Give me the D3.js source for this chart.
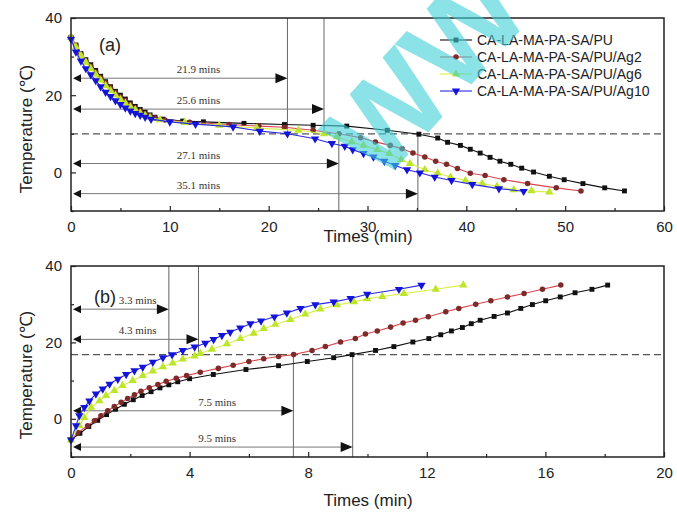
<!DOCTYPE html>
<html>
<head>
<meta charset="utf-8"/>
<title>Temperature curves</title>
<script src="https://cdn.jsdelivr.net/npm/d3@7/dist/d3.min.js"></script>
<style>
  html,body { margin:0; padding:0; background:#fff; overflow:hidden; }
  svg { display:block; }
  .tick text { font-family:"Liberation Sans", Arial, sans-serif; font-size:15px; fill:#222; }
  .tick line { stroke:#222; stroke-width:1.2; }
</style>
</head>
<body>
<svg width="677" height="514"></svg>
<script>
// legend / series names
const names = ["CA-LA-MA-PA-SA/PU", "CA-LA-MA-PA-SA/PU/Ag2", "CA-LA-MA-PA-SA/PU/Ag6", "CA-LA-MA-PA-SA/PU/Ag10"];

// (a) cooling, [time min, temp °C]
const coolPU = [[0,35.0],[0.5,33.0],[1,30.8],[1.5,29.2],[2,27.9],[2.5,26.4],[3,24.9],[3.5,23.5],[4,22.2],[4.5,21.0],[5,20.0],[5.5,19.0],[6,18.0],[6.5,17.1],[7,16.3],[7.5,15.6],[8,14.9],[8.5,14.3],[9.3,13.8],[11.3,13.3],[13.4,13.1],[17.5,12.7],[21.6,12.4],[24.5,12.2],[27.9,12.0],[32.0,10.9],[35.2,9.9],[37.1,8.9],[38.1,7.8],[39.4,7.0],[40.4,6.0],[41.4,5.0],[42.4,3.9],[43.4,2.9],[44.5,2.1],[45.6,1.1],[46.8,0.1],[48.4,-1.0],[49.9,-1.9],[51.8,-2.9],[54.0,-4.0],[56.0,-4.8]];
const coolAg2 = [[0,35.0],[0.5,32.8],[1,30.6],[1.5,28.9],[2,27.5],[2.5,26.0],[3,24.6],[3.5,23.2],[4,21.9],[4.5,20.7],[5,19.6],[5.5,18.6],[6,17.6],[6.5,16.7],[7,15.9],[7.5,15.2],[8,14.6],[8.5,14.1],[9.5,13.6],[12,13.0],[16,12.4],[19,12.0],[21.6,11.7],[24.5,10.9],[27.1,10.0],[29.3,9.0],[30.8,7.9],[32.3,7.0],[33.5,6.1],[34.6,5.0],[35.8,4.0],[36.9,2.9],[38.0,2.1],[39.1,1.0],[40.4,-0.2],[41.9,-0.8],[43.8,-1.9],[46.2,-2.9],[49.1,-4.0],[51.6,-4.8]];
const coolAg6 = [[0,35.0],[0.5,32.5],[1,30.3],[1.5,28.5],[2,26.9],[2.5,25.4],[3,23.9],[3.5,22.5],[4,21.2],[4.5,20.0],[5,18.9],[5.5,17.9],[6,17.0],[6.5,16.2],[7,15.4],[7.5,14.7],[8,14.2],[9,13.6],[11.5,12.9],[15,12.2],[18.8,11.5],[23.0,10.9],[25.6,10.0],[26.9,9.2],[28.4,7.9],[29.6,7.0],[31.0,5.9],[32.2,4.9],[33.4,3.3],[34.3,2.3],[35.8,0.7],[37.1,-0.2],[38.4,-1.2],[39.9,-2.1],[41.6,-2.9],[43.1,-3.6],[44.8,-4.5],[46.6,-4.8],[48.4,-5.1]];
const coolAg10 = [[0,34.5],[0.5,31.2],[1,28.9],[1.5,26.9],[2,25.3],[2.5,23.8],[3,22.2],[3.5,20.8],[4,19.7],[4.5,18.6],[5,17.6],[5.5,16.7],[6,15.9],[6.5,15.3],[7,14.8],[7.5,14.3],[8.1,13.8],[10,13.1],[12.6,12.5],[16.4,11.8],[19.1,10.7],[21.9,10.0],[24.7,8.7],[26.4,7.5],[27.7,6.8],[28.5,5.9],[29.6,4.9],[30.6,4.0],[31.7,2.9],[32.8,1.8],[34.0,0.7],[35.3,-0.1],[36.8,-1.2],[38.5,-2.1],[40.6,-3.1],[43.3,-4.2],[45.8,-4.9]];

// (b) heating
const heatPU = [[0,-5.5],[0.3,-3.8],[0.6,-2.0],[0.9,-0.4],[1.2,1.1],[1.5,2.5],[1.8,3.8],[2.1,5.0],[2.4,6.1],[2.7,7.1],[3.0,8.1],[3.3,8.9],[3.6,9.7],[4.0,10.5],[4.8,11.6],[5.9,12.9],[7.0,13.9],[7.97,15.0],[8.86,16.0],[9.48,16.8],[10.27,17.9],[10.89,18.9],[11.53,20.1],[12.07,21.0],[12.47,22.0],[12.83,23.0],[13.2,23.9],[13.5,24.9],[13.8,25.8],[14.27,26.8],[14.72,27.7],[15.17,28.9],[15.56,29.9],[16.01,30.9],[16.5,31.9],[17.0,33.0],[17.57,33.9],[18.1,35.0]];
const heatAg2 = [[0,-5.5],[0.23,-3.6],[0.56,-1.8],[0.79,-0.5],[1.01,0.8],[1.24,2.1],[1.46,3.2],[1.69,4.3],[1.91,5.3],[2.14,6.3],[2.36,7.2],[2.64,8.1],[2.93,9.0],[3.21,9.8],[3.55,10.6],[3.9,11.3],[4.36,12.2],[4.97,13.2],[5.47,14.0],[6.0,15.0],[6.5,15.7],[7.0,16.3],[7.51,16.8],[8.13,17.9],[8.58,18.9],[9.09,20.1],[9.59,21.0],[9.93,22.2],[10.33,23.0],[10.78,24.0],[11.2,25.1],[11.62,25.8],[12.05,26.7],[12.64,28.0],[13.08,28.9],[13.65,30.0],[14.16,30.9],[14.72,31.9],[15.28,32.8],[15.9,33.9],[16.52,35.0]];
const heatAg6 = [[0,-5.5],[0.28,-1.8],[0.45,0.3],[0.68,3.0],[0.96,4.7],[1.18,6.1],[1.46,7.4],[1.74,8.7],[2.08,10.0],[2.42,11.3],[2.76,12.5],[3.1,13.6],[3.43,14.6],[3.77,15.6],[4.17,16.4],[4.36,17.1],[4.75,18.2],[5.26,19.6],[5.71,21.0],[6.16,22.4],[6.5,23.6],[6.89,24.7],[7.4,26.0],[7.9,27.4],[8.41,28.7],[8.97,29.8],[9.54,30.6],[9.99,31.4],[10.5,32.0],[11.23,32.8],[12.3,33.9],[13.23,35.0]];
const heatAg10 = [[0,-5.5],[0.17,-1.8],[0.28,0.8],[0.45,3.0],[0.62,4.7],[0.84,6.5],[1.07,7.8],[1.3,9.1],[1.58,10.4],[1.86,11.6],[2.14,12.6],[2.42,13.5],[2.76,14.8],[3.1,16.0],[3.41,16.8],[3.77,17.9],[4.17,18.8],[4.53,19.8],[4.81,20.8],[5.09,21.8],[5.37,22.7],[5.71,23.8],[6.05,24.9],[6.41,25.6],[6.86,26.7],[7.28,27.7],[7.74,28.9],[8.24,29.9],[8.86,30.6],[9.43,31.5],[9.99,32.6],[11.06,33.9],[11.82,35.0]];

// annotation values
const levelA = 10, levelB = 16.8;
const arrowMinsA = [21.9, 25.6, 27.1, 35.1];
const arrowTempA = [24.4, 16.4, 2.3, -5.5];
const arrowMinsB = [3.3, 4.3, 7.5, 9.5];
const arrowTempB = [28.7, 20.8, 2.1, -7.4];

const xTicksA = [0,10,20,30,40,50,60], xMinorA = [5,15,25,35,45,55];
const xTicksB = [0,4,8,12,16,20],      xMinorB = [2,6,10,14,18];
const yTicks = [0,20,40],               yMinor = [-10,10,30];

// look of the four series
const styles = [
  {line:"#111",    fill:"#111",    sym:d3.symbolSquare,   size:24, rot:0},
  {line:"#d9484f", fill:"#7c2a2a", sym:d3.symbolCircle,   size:24, rot:0},
  {line:"#d8f040", fill:"#bde52a", sym:d3.symbolTriangle, size:30, rot:0},
  {line:"#2a2ae6", fill:"#1414d8", sym:d3.symbolTriangle, size:30, rot:180}
];

const svg = d3.select("svg");
const L = 71, R = 664;
const FONT = '"Liberation Sans", Arial, sans-serif';
const SERIF = '"Liberation Serif", "Times New Roman", serif';

function drawPanel(p) {
  const x = d3.scaleLinear().domain(p.xDom).range([L, R]);
  const y = d3.scaleLinear().domain([-10, 40]).range([p.bottom, p.top]);
  const g = svg.append("g");

  // dashed reference level
  g.append("line")
    .attr("x1", L).attr("x2", R).attr("y1", y(p.level)).attr("y2", y(p.level))
    .attr("stroke", "#555").attr("stroke-width", 1.2).attr("stroke-dasharray", "7,4");

  // vertical guides: first two go up, last two go down
  p.arrowMins.forEach((m, i) => {
    const up = i < 2;
    g.append("line")
      .attr("x1", x(m)).attr("x2", x(m))
      .attr("y1", up ? y(40) : y(p.level)).attr("y2", up ? y(p.level) : y(-10))
      .attr("stroke", "#666").attr("stroke-width", 1);
  });

  // double arrows with labels
  p.arrowMins.forEach((m, i) => {
    const yy = y(p.arrowTemp[i]), x0 = x(0) + 2, x1 = x(m);
    g.append("line").attr("x1", x0 + 6).attr("x2", x1 - 10)
      .attr("y1", yy).attr("y2", yy).attr("stroke", "#777").attr("stroke-width", 1);
    g.append("path").attr("d", `M${x0},${yy}L${x0+8},${yy-4}L${x0+8},${yy+4}Z`).attr("fill", "#111");
    g.append("path").attr("d", `M${x1},${yy}L${x1-12},${yy-5}L${x1-12},${yy+5}Z`).attr("fill", "#111");
    g.append("text")
      .attr("x", x(i < 2 ? p.labelX[0] : p.labelX[1])).attr("y", yy - 5)
      .attr("text-anchor", "middle")
      .style("font-family", SERIF).style("font-size", "11px").attr("fill", "#333")
      .text(m + " mins");
  });

  // series
  const line = d3.line().x(d => x(d[0])).y(d => y(d[1]));
  p.series.forEach((s, i) => {
    const st = styles[i];
    g.append("path").datum(s).attr("d", line)
      .attr("fill", "none").attr("stroke", st.line).attr("stroke-width", 1.1);
    g.selectAll(null).data(s).join("path")
      .attr("d", d3.symbol(st.sym, st.size))
      .attr("transform", d => `translate(${x(d[0])},${y(d[1])}) rotate(${st.rot})`)
      .attr("fill", st.fill);
  });

  // axes, ticks pointing inward
  g.append("g").attr("transform", `translate(0,${p.bottom})`)
    .call(d3.axisBottom(x).tickValues(p.xTicks).tickSize(-5).tickPadding(10).tickFormat(d3.format("d")));
  g.append("g").attr("transform", `translate(0,${p.bottom})`)
    .call(d3.axisBottom(x).tickValues(p.xMinor).tickSize(-3).tickFormat(""));
  g.append("g").attr("transform", `translate(${L},0)`)
    .call(d3.axisLeft(y).tickValues(yTicks).tickSize(-5).tickPadding(9).tickFormat(d3.format("d")));
  g.append("g").attr("transform", `translate(${L},0)`)
    .call(d3.axisLeft(y).tickValues(yMinor).tickSize(-3).tickFormat(""));
  g.selectAll(".domain").remove();

  // frame
  g.append("rect").attr("x", L).attr("y", p.top).attr("width", R - L).attr("height", p.bottom - p.top)
    .attr("fill", "none").attr("stroke", "#222").attr("stroke-width", 1.5);

  // titles
  g.append("text").attr("transform", `translate(32,${p.yTitleY}) rotate(-90)`)
    .attr("text-anchor", "middle").style("font-family", FONT).style("font-size", "17px").attr("fill", "#222")
    .text("Temperature (℃)");
  g.append("text").attr("x", 368).attr("y", p.xTitleY).attr("text-anchor", "middle")
    .style("font-family", FONT).style("font-size", "17px").attr("fill", "#222")
    .text("Times (min)");
  g.append("text").attr("x", p.tagX).attr("y", p.tagY)
    .style("font-family", FONT).style("font-size", "18px").attr("fill", "#222").text(p.tag);
  return g;
}

drawPanel({
  xDom: [0, 60], top: 18, bottom: 211, level: levelA,
  arrowMins: arrowMinsA, arrowTemp: arrowTempA, labelX: [12.9, 12.9],
  series: [coolPU, coolAg2, coolAg6, coolAg10],
  xTicks: xTicksA, xMinor: xMinorA,
  yTitleY: 129, xTitleY: 242, tag: "(a)", tagX: 99, tagY: 51
});
drawPanel({
  xDom: [0, 20], top: 266, bottom: 457, level: levelB,
  arrowMins: arrowMinsB, arrowTemp: arrowTempB, labelX: [2.25, 4.93],
  series: [heatPU, heatAg2, heatAg6, heatAg10],
  xTicks: xTicksB, xMinor: xMinorB,
  yTitleY: 375, xTitleY: 506, tag: "(b)", tagX: 94, tagY: 303
});

// legend of panel (a)
const leg = svg.append("g");
names.forEach((n, i) => {
  const yy = 40 + i * 17, st = styles[i];
  leg.append("line").attr("x1", 440).attr("x2", 472).attr("y1", yy).attr("y2", yy)
    .attr("stroke", st.line).attr("stroke-width", 1.1);
  leg.append("path").attr("d", d3.symbol(st.sym, st.size))
    .attr("transform", `translate(456,${yy}) rotate(${st.rot})`).attr("fill", st.fill);
  leg.append("text").attr("x", 477).attr("y", yy + 5)
    .style("font-family", FONT).style("font-size", "14px").attr("fill", "#222").text(n);
});

// faint watermark across the top panel
svg.append("text")
  .attr("transform", "translate(380,186) rotate(-48)")
  .style("font-family", FONT).style("font-size", "122px").style("font-weight", "bold")
  .attr("fill", "#3fd0d8").attr("opacity", 0.6)
  .text("WW");
</script>
</body>
</html>
